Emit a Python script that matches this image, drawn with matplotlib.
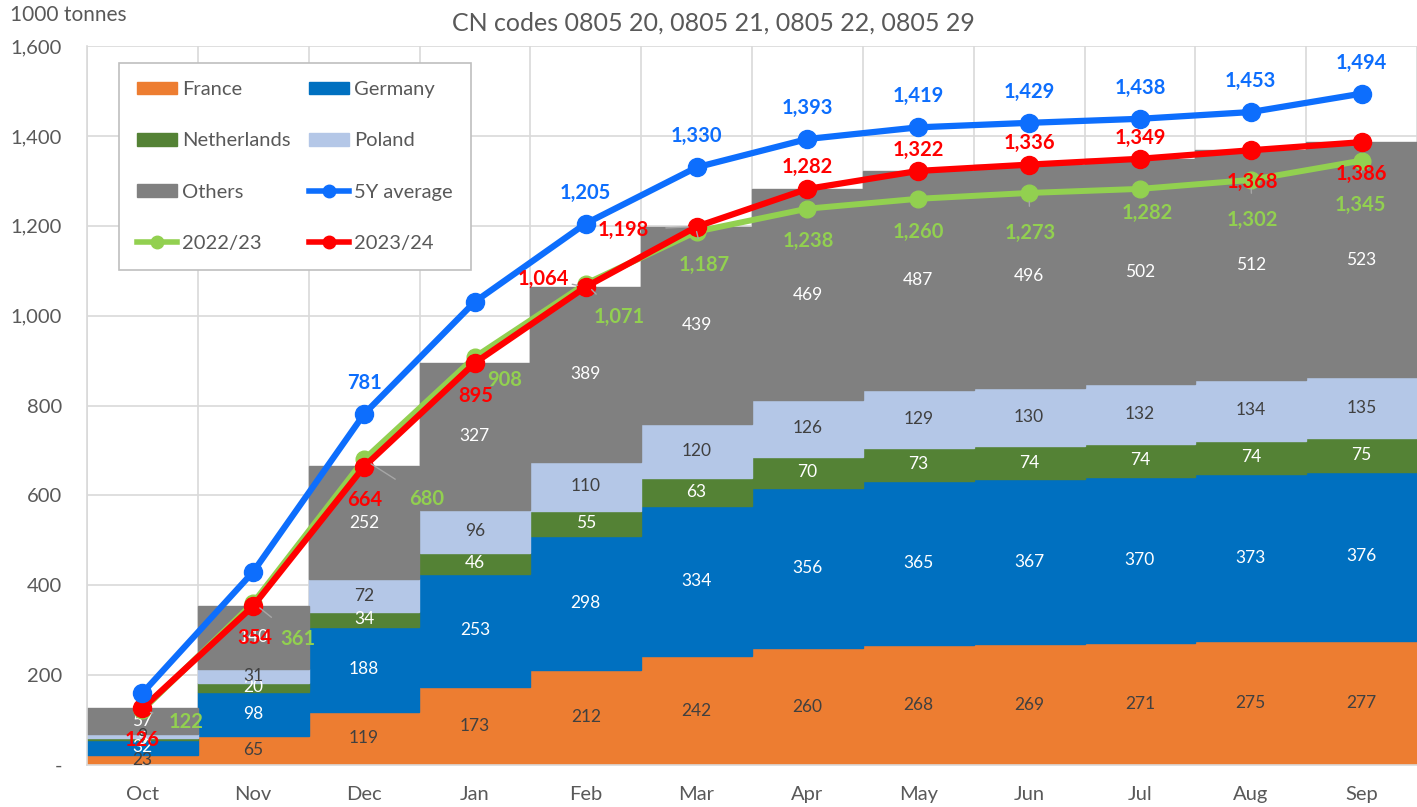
import numpy as np
import matplotlib
matplotlib.use("Agg")
import matplotlib.pyplot as plt
from matplotlib.patches import Patch
from matplotlib.lines import Line2D

plt.rcParams['font.family'] = ['Lato', 'DejaVu Sans']

months = ["Oct", "Nov", "Dec", "Jan", "Feb", "Mar", "Apr", "May", "Jun", "Jul", "Aug", "Sep"]
france = [23, 65, 119, 173, 212, 242, 260, 268, 269, 271, 275, 277]
germany = [32, 98, 188, 253, 298, 334, 356, 365, 367, 370, 373, 376]
netherlands = [5, 20, 34, 46, 55, 63, 70, 73, 74, 74, 74, 75]
poland = [9, 31, 72, 96, 110, 120, 126, 129, 130, 132, 134, 135]
others = [57, 140, 252, 327, 389, 439, 469, 487, 496, 502, 512, 523]

avg5y = [160, 430, 781, 1031, 1205, 1330, 1393, 1419, 1429, 1438, 1453, 1494]
y2223 = [122, 361, 680, 908, 1071, 1187, 1238, 1260, 1273, 1282, 1302, 1345]
y2324 = [126, 354, 664, 895, 1064, 1198, 1282, 1322, 1336, 1349, 1368, 1386]

# label offsets in pixels (dx, dy up), None = no label shown
off_avg = [None, None, (0, 31), None, (0, 31), (0, 31), (0, 31), (0, 31), (0, 31), (0, 31), (0, 31), (0, 31)]
off_2324 = [(0, -32), (2, -32), (1, -33), (1, -33), (-42, 8), (-73, -3), (0, 22), (0, 21), (0, 22), (0, 21), (2, -32), (0, -32)]
off_2223 = [(44, -12), (45, -36), (63, -40), (30, -23), (33, -33), (8, -33), (1, -32), (0, -33), (1, -40), (7, -24), (2, -40), (-1, -44)]
lead_2223 = [True, True, True, False, True, True, False, False, True, False, True, True]
lead_2324 = [False, False, False, False, True, True, False, False, False, False, False, False]

c_fr, c_de, c_nl, c_pl, c_ot = "#ED7D31", "#0070C0", "#548235", "#B4C7E7", "#808080"
c_avg, c_22, c_23 = "#0D6EFD", "#92D050", "#FF0000"

fig = plt.figure(figsize=(14.17, 8.07), dpi=100)
ax = fig.add_axes([87 / 1417, 1 - 765 / 807, (1417 - 87) / 1417, (765 - 46) / 807])
x = np.arange(len(months))

series = [(france, c_fr, "France", "#404040"), (germany, c_de, "Germany", "white"),
          (netherlands, c_nl, "Netherlands", "white"), (poland, c_pl, "Poland", "#404040"),
          (others, c_ot, "Others", "white")]
bottom = np.zeros(len(months))
for vals, col, name, tcol in series:
    v = np.array(vals)
    ax.bar(x, v, width=1.0, bottom=bottom, color=col, edgecolor=col, lw=1.0, zorder=2)
    for i in range(len(months)):
        ax.text(x[i], bottom[i] + v[i] / 2, str(v[i]), ha="center", va="center",
                fontsize=12.5, color=tcol, zorder=3)
    bottom += v

ax.plot(x, y2223, color=c_22, lw=4.3, marker="o", ms=12, zorder=5)
ax.plot(x, y2324, color=c_23, lw=4.5, marker="o", ms=13, zorder=6)
ax.plot(x, avg5y, color=c_avg, lw=4.5, marker="o", ms=13, zorder=6)


def label_line(vals, offs, col, leads=None):
    for i, v in enumerate(vals):
        if offs[i] is None:
            continue
        dx, dy = offs[i]
        ap = None
        if leads is not None and leads[i]:
            ap = dict(arrowstyle="-", color="#A6A6A6", lw=1.0, shrinkA=10, shrinkB=6)
        ax.annotate(f"{v:,}", (x[i], v), xytext=(dx, dy), textcoords="offset pixels",
                    ha="center", va="center", fontsize=14.5, fontweight="bold",
                    color=col, zorder=8, arrowprops=ap)


label_line(y2223, off_2223, c_22, lead_2223)
label_line(y2324, off_2324, c_23, lead_2324)
label_line(avg5y, off_avg, c_avg)

ax.set_xlim(-0.5, -0.5 + (1417 - 87) / 112.1)
ax.set_ylim(0, 1600)
ax.set_yticks(range(0, 1601, 200))
ax.set_yticklabels(["-"] + [f"{t:,}" for t in range(200, 1601, 200)])
ax.set_xticks(x)
ax.set_xticklabels(months)
ax.tick_params(axis="both", length=0, labelsize=14.5, colors="#595959")
ax.tick_params(axis="x", pad=15)
ax.tick_params(axis="y", pad=18)

ax.set_xticks(np.arange(-0.5, 12, 1), minor=True)
ax.tick_params(axis="x", which="minor", length=0)
ax.grid(axis="y", which="major", color="#D9D9D9", lw=1.2, zorder=0)
ax.grid(axis="x", which="minor", color="#D9D9D9", lw=1.2, zorder=0)
ax.grid(axis="x", which="major", visible=False)
for s in ["top", "right"]:
    ax.spines[s].set_visible(False)
ax.spines["left"].set_color("#D9D9D9")
ax.spines["bottom"].set_color("#D9D9D9")
ax.spines["left"].set_linewidth(1.2)
ax.spines["bottom"].set_linewidth(1.2)

fig.text(68 / 1417, 1 - 15 / 807, "1000 tonnes", ha="center", va="center", fontsize=15, color="#595959")
fig.text(713 / 1417, 1 - 23 / 807, "CN codes 0805 20, 0805 21, 0805 22, 0805 29",
         ha="center", va="center", fontsize=18, color="#595959")

handles = [Patch(color=c_fr), Patch(color=c_nl), Patch(color=c_ot),
           Line2D([], [], color=c_22, lw=4, marker="o", ms=9),
           Patch(color=c_de), Patch(color=c_pl),
           Line2D([], [], color=c_avg, lw=4, marker="o", ms=9),
           Line2D([], [], color=c_23, lw=4, marker="o", ms=9)]
labels = ["France", "Netherlands", "Others", "2022/23", "Germany", "Poland", "5Y average", "2023/24"]
leg = ax.legend(handles, labels, ncol=2, loc="upper left",
                bbox_to_anchor=((119 - 87) / 1330, 1 - (63 - 46) / 719), borderaxespad=0,
                fontsize=14.5, frameon=True, fancybox=False, edgecolor="#BFBFBF", framealpha=1,
                handlelength=2.0, handleheight=0.6, labelspacing=1.7, columnspacing=0.9,
                borderpad=0.9, handletextpad=0.25, labelcolor="#595959")
leg.get_frame().set_linewidth(1.2)
leg.set_zorder(10)

fig.savefig("out.png", dpi=100)
